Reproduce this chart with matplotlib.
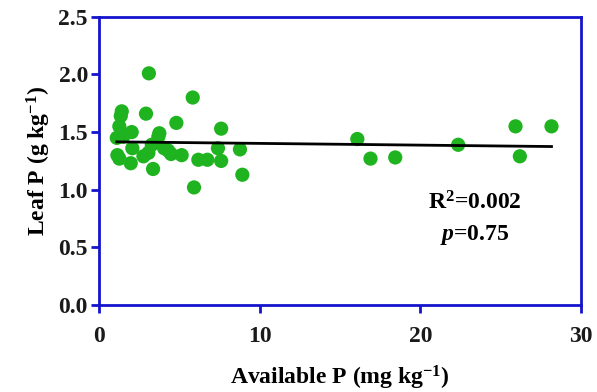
import numpy as np
import matplotlib
matplotlib.use('Agg')
from matplotlib import pyplot as plt

# available P (mg/kg) vs leaf P (g/kg)
avail_p = [3.1, 5.83, 1.41, 1.35, 2.92, 1.26, 2.03, 4.81, 7.6, 3.75, 3.69, 1.1, 1.5,
           2.07, 3.28, 4.05, 7.4, 8.77, 1.14, 1.26, 1.97, 2.76, 3.07, 4.48, 5.14,
           6.18, 6.74, 7.6, 3.36, 8.92, 5.91, 4.3,
           16.08, 16.9, 18.44, 22.36, 25.93, 26.2, 28.17]
leaf_p = [2.01, 1.80, 1.68, 1.64, 1.66, 1.55, 1.50, 1.58, 1.53, 1.49, 1.46, 1.45, 1.46,
          1.36, 1.39, 1.36, 1.36, 1.35, 1.30, 1.27, 1.23, 1.29, 1.32, 1.31, 1.30,
          1.26, 1.26, 1.25, 1.18, 1.13, 1.02, 1.34,
          1.44, 1.27, 1.28, 1.39, 1.55, 1.29, 1.55]

# regression line as drawn in the figure
intercept = 1.417
slope = -0.0015
r2_text = 'R$^{2}$=0.002'
p_text = '$p$=0.75'

plt.rcParams['font.family'] = ['Liberation Serif', 'DejaVu Serif']
plt.rcParams['font.weight'] = 'bold'
plt.rcParams['mathtext.fontset'] = 'custom'
plt.rcParams['mathtext.rm'] = 'Liberation Serif:bold'
plt.rcParams['mathtext.bf'] = 'Liberation Serif:bold'
plt.rcParams['mathtext.it'] = 'Liberation Serif:bold:italic'

blue = '#1414cc'
fig = plt.figure(figsize=(5.97, 3.92), dpi=100)
ax = fig.add_axes([0.166, 0.222, 0.807, 0.735])

ax.scatter(avail_p, leaf_p, s=105, color='#1fb41f', edgecolors='none', zorder=2)
xs = np.array([min(avail_p), max(avail_p)])
ax.plot(xs, intercept + slope * xs, color='black', lw=2, zorder=3)

ax.set_xlim(0, 30)
ax.set_ylim(0, 2.5)
ax.set_xticks([0, 10, 20, 30])
ax.set_yticks([0, 0.5, 1.0, 1.5, 2.0, 2.5])
ax.set_yticklabels(['0.0', '0.5', '1.0', '1.5', '2.0', '2.5'])
for s in ax.spines.values():
    s.set_color(blue)
    s.set_linewidth(2)
ax.tick_params(axis='both', colors=blue, width=2, length=6, labelcolor='#1a1a1a',
               labelsize=17)
ax.tick_params(axis='x', pad=9)
ax.tick_params(axis='y', pad=2)

ax.set_xlabel('Available P (mg kg$^{-1}$)', fontsize=17, fontweight='bold', labelpad=12)
ax.set_ylabel('Leaf P (g kg$^{-1}$)', fontsize=17, fontweight='bold', labelpad=4)

ax.text(23.4, 0.89, r2_text, fontsize=17, fontweight='bold', ha='center', va='center')
ax.text(23.4, 0.61, p_text, fontsize=17, fontweight='bold', ha='center', va='center')

plt.savefig('out.png', dpi=100)
